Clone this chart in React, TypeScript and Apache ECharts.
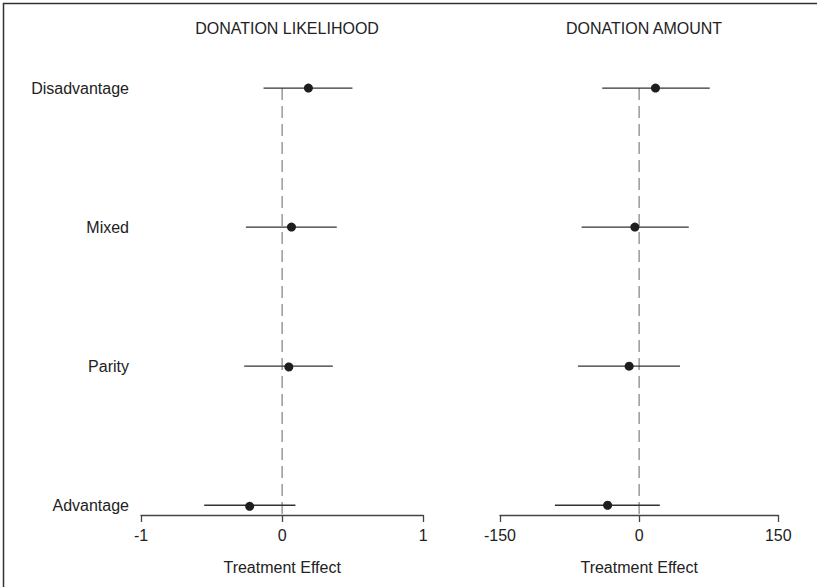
import React, { useEffect, useRef } from "react";
import * as echarts from "echarts";

const rowLabels = ["Advantage", "Parity", "Mixed", "Disadvantage"];
const panelTitles = ["DONATION LIKELIHOOD", "DONATION AMOUNT"];
const axisTitle = "Treatment Effect";

const likelihoodEst = [-0.231, 0.047, 0.066, 0.186];
const likelihoodLo = [-0.552, -0.269, -0.257, -0.132];
const likelihoodHi = [0.094, 0.359, 0.387, 0.498];

const amountEst = [-34, -10.8, -4.6, 17.6];
const amountLo = [-90.8, -66, -62, -39.8];
const amountHi = [22.3, 44.1, 53.5, 76.1];

const likelihoodTicks = { min: -1, max: 1, interval: 1 };
const amountTicks = { min: -150, max: 150, interval: 150 };

const FONT = "'Liberation Sans', Arial, Helvetica, sans-serif";
const TEXT = "#222";
const YMIN = -0.07;
const YMAX = 3.07;

function buildData(lo: number[], hi: number[], est: number[]) {
  return est.map((e, i) => [lo[i], hi[i], e, i]);
}

const renderCI = (params: any, api: any) => {
  const lo = api.value(0);
  const hi = api.value(1);
  const est = api.value(2);
  const row = api.value(3);
  const p1 = api.coord([lo, row]);
  const p2 = api.coord([hi, row]);
  const pe = api.coord([est, row]);
  return {
    type: "group",
    children: [
      {
        type: "line",
        shape: { x1: p1[0], y1: p1[1], x2: p2[0], y2: p2[1] },
        style: { stroke: "#333", lineWidth: 1.3 },
      },
      {
        type: "circle",
        shape: { cx: pe[0], cy: pe[1], r: 4.5 },
        style: { fill: "#1e1e1e", stroke: "none" },
      },
    ],
  };
};

export default function App() {
  const ref = useRef<HTMLDivElement>(null);
  useEffect(() => {
    if (!ref.current) return;
    const chart = echarts.init(ref.current, null, { renderer: "svg" });
    const xAxisCommon = {
      type: "value",
      splitLine: { show: false },
      axisLine: { show: true, onZero: false, lineStyle: { color: "#444", width: 1.3 } },
      axisTick: { show: true, length: 7, lineStyle: { color: "#444", width: 1.3 } },
      axisLabel: { color: TEXT, fontSize: 16, fontFamily: FONT, margin: 12 },
      name: axisTitle,
      nameLocation: "middle",
      nameGap: 44,
      nameTextStyle: { color: TEXT, fontSize: 16, fontFamily: FONT },
    };
    const yAxisCommon = {
      type: "value",
      min: YMIN,
      max: YMAX,
      splitLine: { show: false },
      axisLine: { show: false },
      axisTick: { show: false },
    };
    chart.setOption({
      animation: false,
      backgroundColor: "#fff",
      title: panelTitles.map((t, i) => ({
        text: t,
        left: i === 0 ? 282 : 639,
        top: 15,
        textAlign: "center",
        textStyle: { color: TEXT, fontSize: 16, fontWeight: "normal", fontFamily: FONT },
      })),
      graphic: [
        {
          type: "rect",
          shape: { x: 3.5, y: 3.5, width: 900, height: 700 },
          style: { fill: "none", stroke: "#333", lineWidth: 1.5 },
          silent: true,
        },
      ],
      grid: [
        { left: 141, width: 282.3, top: 78.3, height: 436.7 },
        { left: 500, width: 278.3, top: 78.3, height: 436.7 },
      ],
      xAxis: [
        { ...xAxisCommon, gridIndex: 0, ...likelihoodTicks },
        { ...xAxisCommon, gridIndex: 1, ...amountTicks },
      ],
      yAxis: [
        {
          ...yAxisCommon,
          gridIndex: 0,
          axisLabel: {
            show: true,
            customValues: [0, 1, 2, 3],
            formatter: (v: number) => rowLabels[Math.round(v)] ?? "",
            color: TEXT,
            fontSize: 16,
            fontFamily: FONT,
            margin: 12,
          },
        },
        { ...yAxisCommon, gridIndex: 1, axisLabel: { show: false } },
      ],
      series: [
        {
          type: "line",
          xAxisIndex: 0,
          yAxisIndex: 0,
          data: [[0, 3], [0, YMIN]],
          symbol: "none",
          lineStyle: { color: "#999", width: 1.5, type: [12, 6] },
          z: 1,
        },
        {
          type: "line",
          xAxisIndex: 1,
          yAxisIndex: 1,
          data: [[0, 3], [0, YMIN]],
          symbol: "none",
          lineStyle: { color: "#999", width: 1.5, type: [12, 6] },
          z: 1,
        },
        {
          type: "custom",
          xAxisIndex: 0,
          yAxisIndex: 0,
          renderItem: renderCI,
          encode: { x: [0, 1, 2], y: 3 },
          data: buildData(likelihoodLo, likelihoodHi, likelihoodEst),
          z: 2,
        },
        {
          type: "custom",
          xAxisIndex: 1,
          yAxisIndex: 1,
          renderItem: renderCI,
          encode: { x: [0, 1, 2], y: 3 },
          data: buildData(amountLo, amountHi, amountEst),
          z: 2,
        },
      ],
    });
    return () => chart.dispose();
  }, []);
  return (
    <div
      ref={ref}
      style={{ position: "fixed", left: 0, top: 0, width: 817, height: 587, background: "#fff" }}
    />
  );
}
